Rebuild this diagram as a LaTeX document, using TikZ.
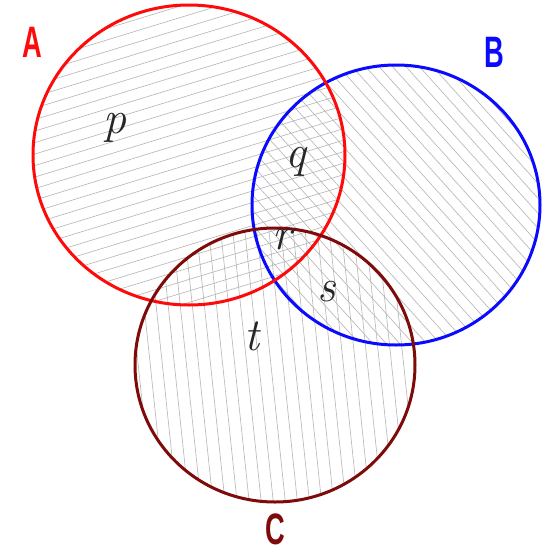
\documentclass[tikz,border=0pt]{standalone}
\usepackage{fontspec}
\newfontfamily\labfont{Liberation Sans}
\definecolor{cred}{HTML}{FF0A0A}
\definecolor{cblue}{HTML}{0A0AFF}
\definecolor{cbrown}{HTML}{7E0A0A}
\definecolor{hatchgray}{HTML}{B4B4B4}
\tikzset{
  hatch/.style={draw=hatchgray, line width=0.6pt},
  rim/.style={line width=3pt, line join=round},
  setlabel/.style={font=\labfont\bfseries\fontsize{44}{44}\selectfont, xscale=0.62, inner sep=0pt},
  region/.style={font=\itshape\fontsize{46}{46}\selectfont, text=black!85, inner sep=0pt}
}
\begin{document}
\begin{tikzpicture}[x=1pt,y=-1pt]
\useasboundingbox (0,0) rectangle (553,555);
\fill[white] (0,0) rectangle (553,555);
\coordinate (cA) at (189,155);
\coordinate (cB) at (396,205);
\coordinate (cC) at (275,365);
% hatching A
\begin{scope}
  \clip (cA) ellipse [x radius=156, y radius=150];
  \begin{scope}[shift={(cA)}, rotate=17]
    \foreach \i in {-200,-189,...,200} {\draw[hatch] (-220,\i) -- (220,\i);}
  \end{scope}
\end{scope}
% hatching B
\begin{scope}
  \clip (cB) ellipse [x radius=144, y radius=140];
  \begin{scope}[shift={(cB)}, rotate=-48]
    \foreach \i in {-200,-190,...,200} {\draw[hatch] (-220,\i) -- (220,\i);}
  \end{scope}
\end{scope}
% hatching C
\begin{scope}
  \clip (cC) ellipse [x radius=140, y radius=137];
  \begin{scope}[shift={(cC)}, rotate=-84]
    \foreach \i in {-200,-188,...,200} {\draw[hatch] (-220,\i) -- (220,\i);}
  \end{scope}
\end{scope}
% outlines
\draw[rim, cblue] (cB) ellipse [x radius=144, y radius=140];
\draw[rim, cred] (cA) ellipse [x radius=156, y radius=150];
\draw[rim, cbrown] (cC) ellipse [x radius=140, y radius=137];
% set labels
\node[setlabel, text=cred] (labA) at (32,42) {A};
\node[setlabel, text=cblue] (labB) at (494,52) {B};
\node[setlabel, text=cbrown] (labC) at (275,529) {C};
% region labels
\node[region] (p) at (115,128) {p};
\node[region] (q) at (296,162) {q};
\node[region] (r) at (282,240) {r};
\node[region] (s) at (327,292) {s};
\node[region] (t) at (252,336) {t};
\end{tikzpicture}
\end{document}
